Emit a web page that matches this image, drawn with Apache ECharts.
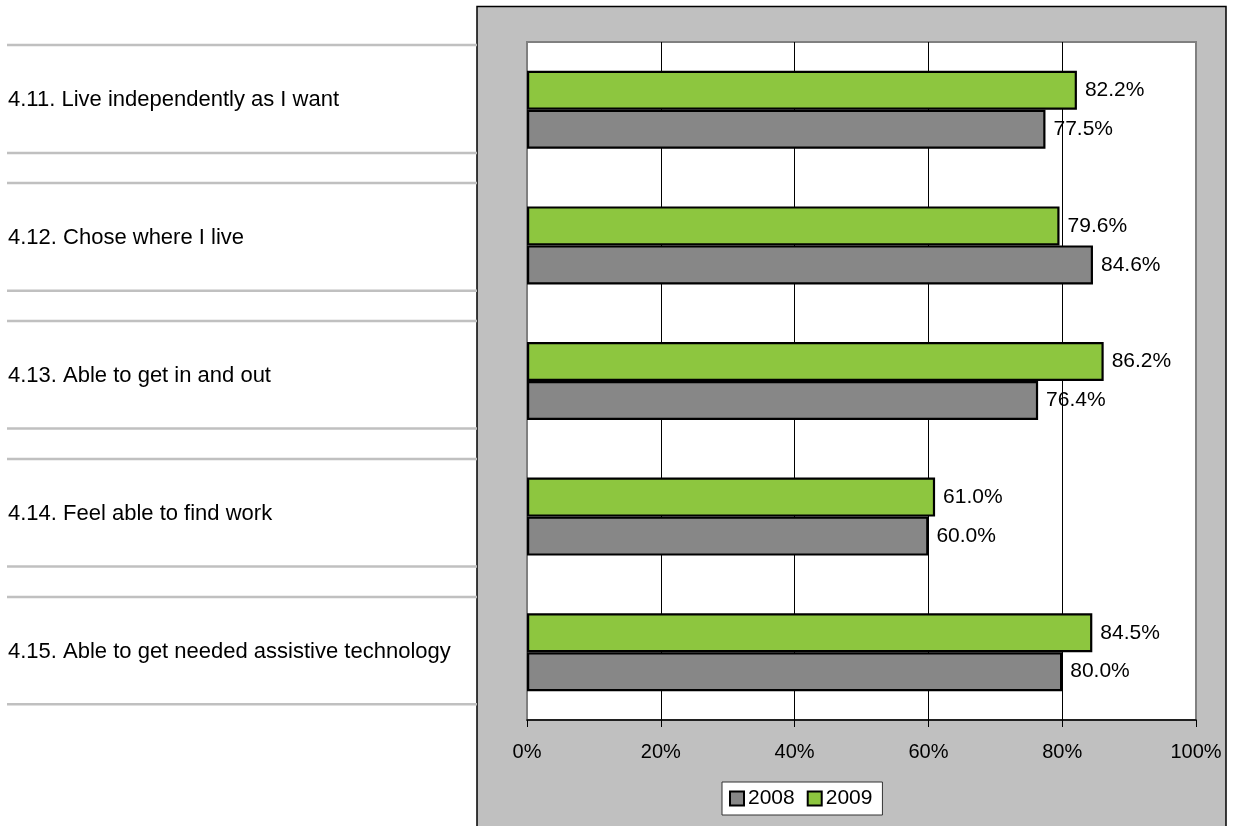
<!DOCTYPE html>
<html>
<head>
<meta charset="utf-8">
<script src="https://cdn.jsdelivr.net/npm/echarts@6/dist/echarts.min.js"></script>
<style>
html,body{margin:0;padding:0;background:#fff;}
#chart{width:1235px;height:826px;}
</style>
</head>
<body>
<div id="chart"></div>
<script>
const categories = [
  '4.11. Live independently as I want',
  '4.12. Chose where I live',
  '4.13. Able to get in and out',
  '4.14. Feel able to find work',
  '4.15. Able to get needed assistive technology'
];
const values2008 = [77.5, 84.6, 76.4, 60.0, 80.0];
const values2009 = [82.2, 79.6, 86.2, 61.0, 84.5];
const tickValues = [0, 20, 40, 60, 80, 100];

const FONT = 'Liberation Sans, Arial, sans-serif';
const chart = echarts.init(document.getElementById('chart'));

// left-hand table (row borders + row labels)
const tableGraphics = [];
categories.forEach((c, i) => {
  const top = 45 + 138.0 * i;
  const bottom = 153 + 137.8 * i;
  tableGraphics.push({
    type: 'line', silent: true, z: 1,
    shape: { x1: 7, y1: top, x2: 477, y2: top },
    style: { stroke: '#c0c0c0', lineWidth: 2.5 }
  });
  tableGraphics.push({
    type: 'line', silent: true, z: 1,
    shape: { x1: 7, y1: bottom, x2: 477, y2: bottom },
    style: { stroke: '#c0c0c0', lineWidth: 2.5 }
  });
  tableGraphics.push({
    type: 'text', silent: true, z: 1,
    x: 8, y: (top + bottom) / 2 + 1,
    style: { text: c, font: '22px ' + FONT, fill: '#000', verticalAlign: 'middle' }
  });
});

const labelOpt = {
  show: true, position: 'right', distance: 8,
  fontFamily: FONT, fontSize: 21, color: '#000',
  formatter: p => p.value.toFixed(1) + '%'
};

chart.setOption({
  animation: false,
  textStyle: { fontFamily: FONT },
  graphic: [
    {
      type: 'rect', silent: true, z: -10,
      shape: { x: 477, y: 6.5, width: 749, height: 840 },
      style: { fill: '#c0c0c0', stroke: '#000', lineWidth: 1.5 }
    }
  ].concat(tableGraphics),
  legend: {
    data: ['2008', '2009'],
    left: 722, top: 782,
    orient: 'horizontal',
    backgroundColor: '#fff',
    borderColor: '#333', borderWidth: 1,
    padding: [6, 10, 6, 7],
    itemWidth: 14, itemHeight: 14, itemGap: 12,
    icon: 'rect',
    itemStyle: { borderColor: '#000', borderWidth: 2 },
    textStyle: { fontFamily: FONT, fontSize: 21, color: '#000', padding: [0, 0, 0, -1] }
  },
  grid: {
    left: 527, top: 42, width: 669, height: 678,
    show: true, backgroundColor: '#fff',
    borderColor: '#808080', borderWidth: 2,
    containLabel: false
  },
  xAxis: {
    type: 'value', min: tickValues[0], max: tickValues[tickValues.length - 1], interval: 20,
    axisLine: { show: true, lineStyle: { color: '#000', width: 1.5 } },
    axisTick: { show: true, length: 7, lineStyle: { color: '#000', width: 1 } },
    axisLabel: { fontFamily: FONT, fontSize: 20, color: '#000', margin: 22, formatter: '{value}%' },
    splitLine: { show: true, showMinLine: false, showMaxLine: false, lineStyle: { color: '#000', width: 1 } }
  },
  yAxis: {
    type: 'category', data: categories, inverse: true,
    axisLine: { show: false }, axisTick: { show: false }, axisLabel: { show: false },
    splitLine: { show: false }
  },
  series: [
    {
      name: '2009', type: 'bar', data: values2009,
      barGap: 0, barCategoryGap: '42.5%',
      itemStyle: { color: '#8dc63f', borderColor: '#000', borderWidth: 2.2 },
      label: labelOpt
    },
    {
      name: '2008', type: 'bar', data: values2008,
      barGap: 0, barCategoryGap: '42.5%',
      itemStyle: { color: '#878787', borderColor: '#000', borderWidth: 2.2 },
      label: labelOpt
    }
  ]
});
</script>
</body>
</html>
